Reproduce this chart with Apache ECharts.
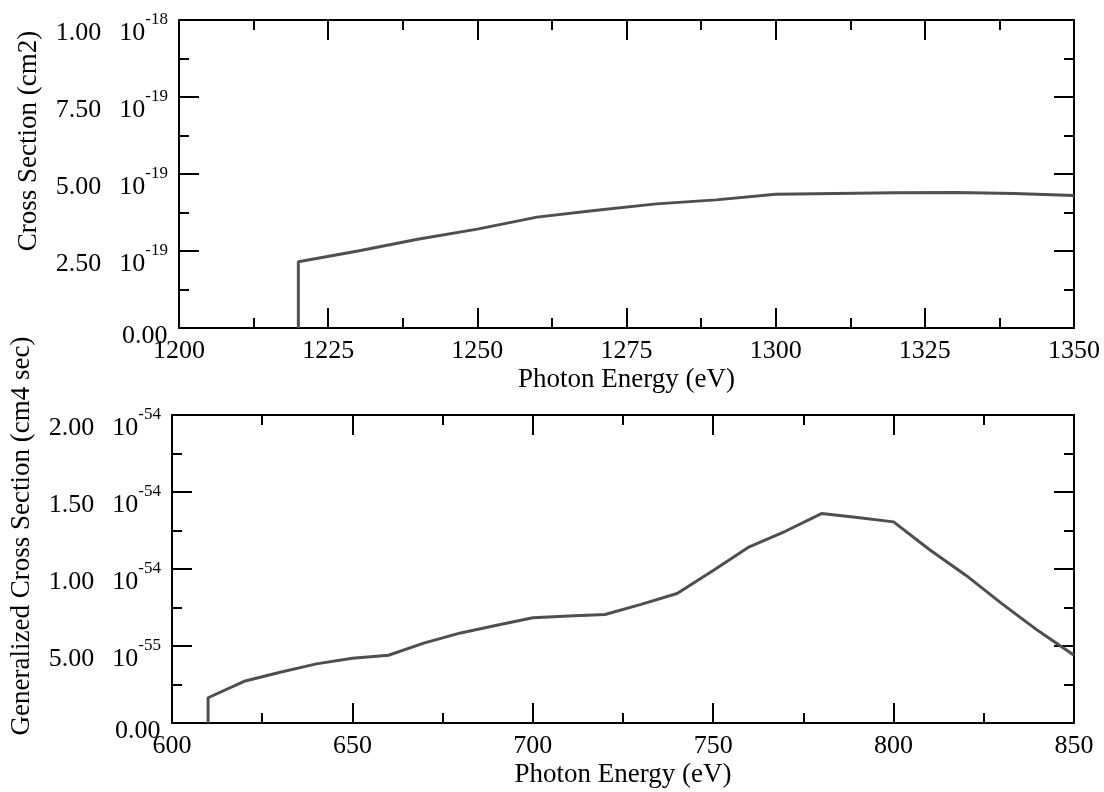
<!DOCTYPE html>
<html>
<head>
<meta charset="utf-8">
<script src="https://cdn.jsdelivr.net/npm/echarts@6/dist/echarts.min.js"></script>
<style>
  html, body { margin: 0; padding: 0; background: #fff; }
  #main { width: 1104px; height: 792px; }
</style>
</head>
<body>
<div id="main"></div>
<script>
// top panel: cross section, values in units of 1e-18 cm2
var energyTop = [1220, 1220, 1230, 1240, 1250, 1260, 1270, 1280, 1290, 1300, 1310, 1320, 1330, 1340, 1350];
var crossTop = [0, 0.215, 0.25, 0.288, 0.321, 0.36, 0.382, 0.403, 0.416, 0.434, 0.437, 0.439, 0.440, 0.437, 0.430];
var topScaleExp = -18;

// bottom panel: generalized cross section, values in units of 1e-54 cm4 sec
var energyBottom = [610, 610, 620, 630, 640, 650, 660, 670, 680, 690, 700, 710, 720, 730, 740, 750, 760, 770, 780, 790, 800, 810, 820, 830, 840, 850];
var crossBottom = [0, 0.164, 0.271, 0.33, 0.384, 0.42, 0.44, 0.52, 0.585, 0.635, 0.683, 0.695, 0.705, 0.77, 0.841, 0.99, 1.144, 1.245, 1.36, 1.335, 1.306, 1.125, 0.96, 0.775, 0.6, 0.44];
var bottomScaleExp = -54;

var fontFam = '"Liberation Serif", "DejaVu Serif", serif';

function pairs(xs, ys) {
    var out = [];
    for (var i = 0; i < xs.length; i++) {
        out.push([xs[i], ys[i]]);
    }
    return out;
}

// grace style "2.50 10^-19" labels
function sciLabel(base) {
    return function (v) {
        if (Math.abs(v) < 1e-9) {
            return '{n|0.00}{z| }';
        }
        var e = Math.floor(Math.log10(v) + 1e-9);
        var mant = v / Math.pow(10, e);
        return '{n|' + mant.toFixed(2) + '}{m|10}{s|' + (e + base) + '}';
    };
}

var labelRich = {
    n: { fontSize: 26, lineHeight: 26, verticalAlign: 'bottom', fontFamily: fontFam, color: '#000' },
    m: { fontSize: 26, lineHeight: 26, verticalAlign: 'bottom', fontFamily: fontFam, color: '#000', padding: [0, 0, 0, 18] },
    s: { fontSize: 17, lineHeight: 52, verticalAlign: 'middle', fontFamily: fontFam, color: '#000' },
    z: { fontSize: 2, lineHeight: 42, verticalAlign: 'middle' }
};

function xAxisPair(grid, min, max, interval) {
    var common = {
        type: 'value',
        gridIndex: grid,
        min: min,
        max: max,
        interval: interval,
        splitLine: { show: false },
        axisLine: { show: true, onZero: false, lineStyle: { color: '#000', width: 2 } },
        axisTick: { show: true, inside: true, length: 20, lineStyle: { color: '#000', width: 2 } },
        minorTick: { show: true, splitNumber: 2, length: 10, lineStyle: { color: '#000', width: 2 } }
    };
    var bottom = Object.assign({}, common, {
        position: 'bottom',
        name: 'Photon Energy (eV)',
        nameLocation: 'middle',
        nameGap: 38,
        nameTextStyle: { fontSize: 27, fontFamily: fontFam, color: '#000' },
        axisLabel: {
            show: true, margin: 10, fontSize: 26, fontFamily: fontFam, color: '#000',
            formatter: function (v) { return String(v); }
        }
    });
    var top = Object.assign({}, common, {
        position: 'top',
        axisLabel: { show: false }
    });
    return [bottom, top];
}

function yAxisPair(grid, min, max, interval, title, base) {
    var common = {
        type: 'value',
        gridIndex: grid,
        min: min,
        max: max,
        interval: interval,
        splitLine: { show: false },
        axisLine: { show: true, onZero: false, lineStyle: { color: '#000', width: 2 } },
        axisTick: { show: true, inside: true, length: 20, lineStyle: { color: '#000', width: 2 } },
        minorTick: { show: true, splitNumber: 2, length: 10, lineStyle: { color: '#000', width: 2 } }
    };
    var left = Object.assign({}, common, {
        position: 'left',
        name: title,
        nameLocation: 'middle',
        nameRotate: 90,
        nameGap: 137,
        nameTextStyle: { fontSize: 27, fontFamily: fontFam, color: '#000', padding: [0, 0, 0, 66] },
        axisLabel: { show: true, margin: 11, formatter: sciLabel(base), rich: labelRich }
    });
    var right = Object.assign({}, common, {
        position: 'right',
        axisLabel: { show: false }
    });
    return [left, right];
}

var myChart = echarts.init(document.getElementById('main'), null, { renderer: 'canvas' });

var xTop = xAxisPair(0, 1200, 1350, 25);
var xBot = xAxisPair(1, 600, 850, 50);
var yTop = yAxisPair(0, 0, 1, 0.25, 'Cross Section (cm2)', topScaleExp);
var yBot = yAxisPair(1, 0, 2, 0.5, 'Generalized Cross Section (cm4 sec)', bottomScaleExp);

var option = {
    backgroundColor: '#fff',
    animation: false,
    grid: [
        { left: 179, right: 30, top: 20, height: 308 },
        { left: 172, right: 30, top: 415, height: 308 }
    ],
    xAxis: [xTop[0], xTop[1], xBot[0], xBot[1]],
    yAxis: [yTop[0], yTop[1], yBot[0], yBot[1]],
    series: [
        {
            type: 'line',
            xAxisIndex: 0,
            yAxisIndex: 0,
            showSymbol: false,
            lineStyle: { color: '#4f4f4f', width: 3 },
            data: pairs(energyTop, crossTop)
        },
        {
            type: 'line',
            xAxisIndex: 2,
            yAxisIndex: 2,
            showSymbol: false,
            lineStyle: { color: '#4f4f4f', width: 3 },
            data: pairs(energyBottom, crossBottom)
        }
    ]
};
myChart.setOption(option);
window.onresize = myChart.resize;
</script>
</body>
</html>
